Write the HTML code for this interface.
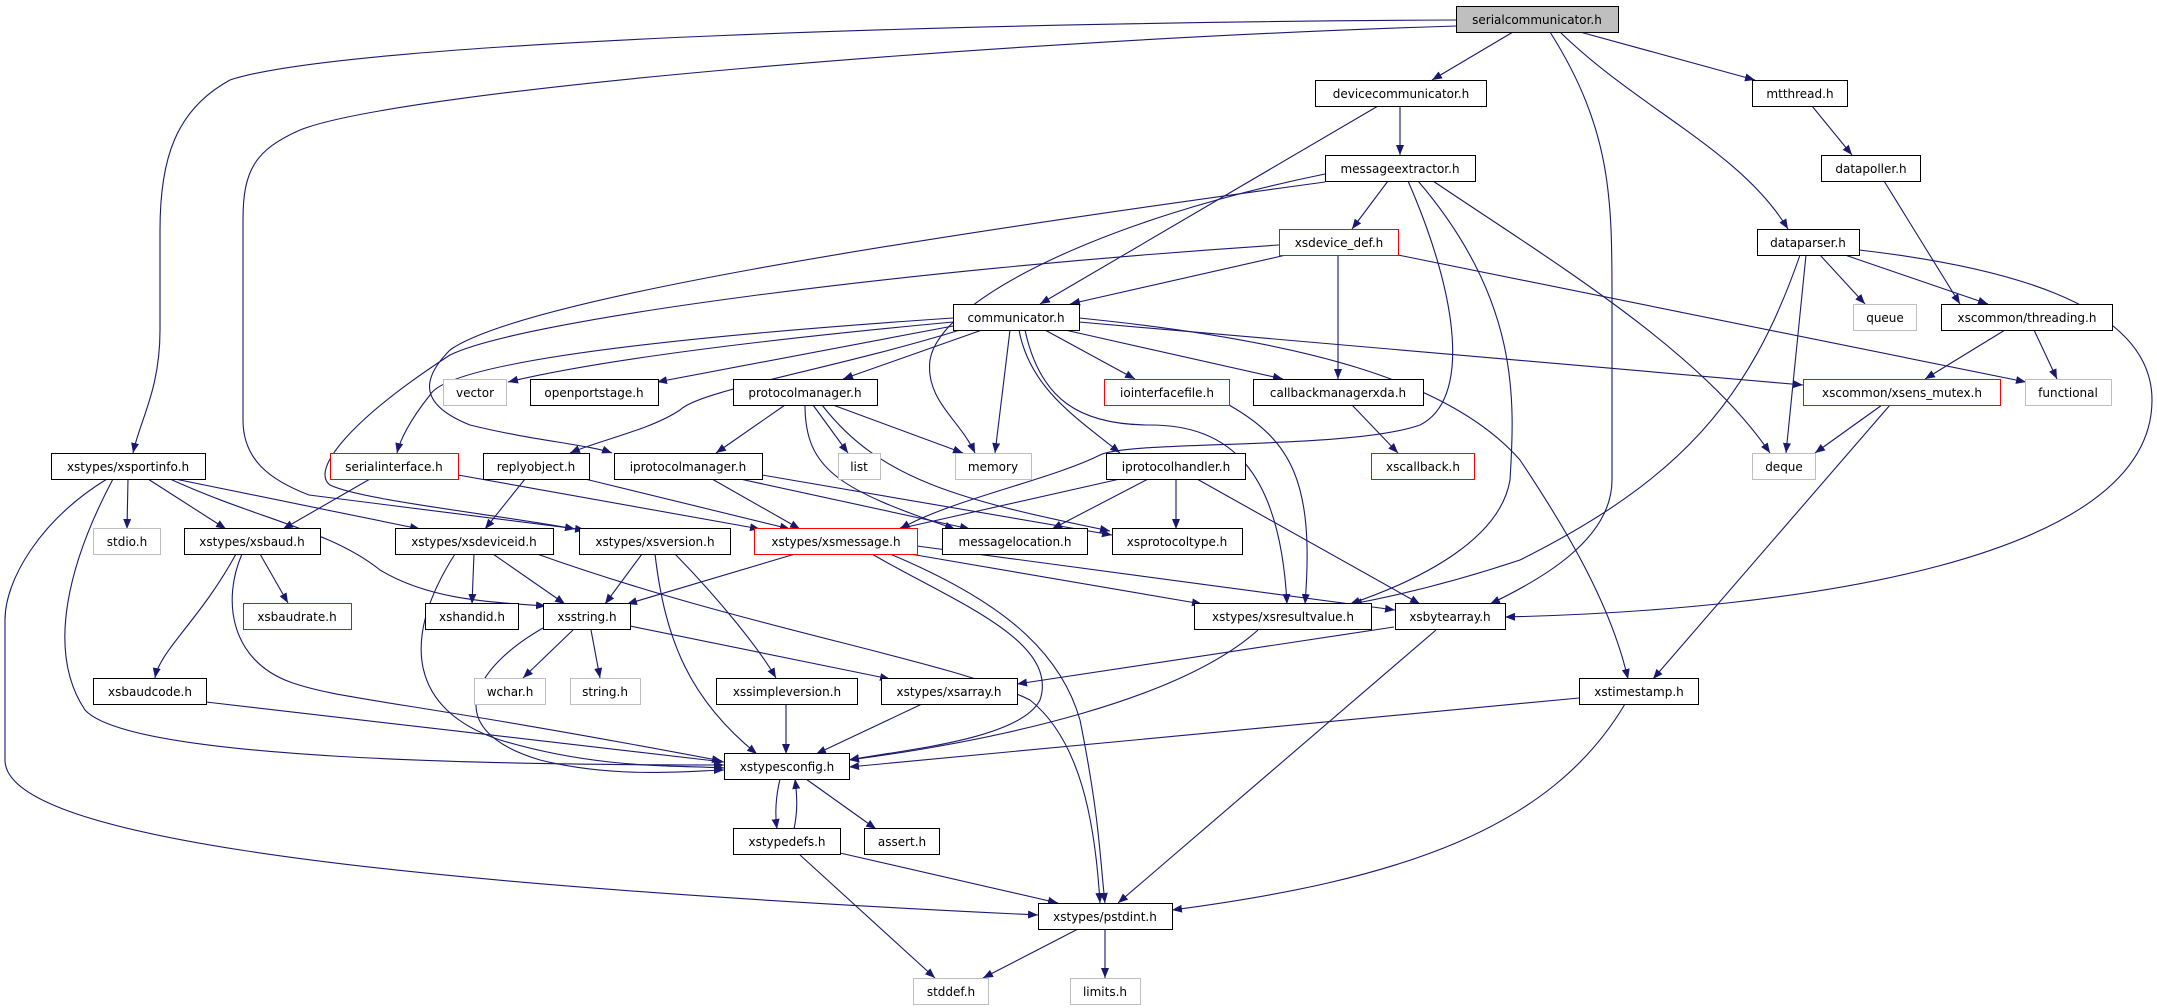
<!DOCTYPE html>
<html><head><meta charset="utf-8"><style>
html,body{margin:0;padding:0;background:#fff;}
svg{display:block;}
text{font-family:"DejaVu Sans","Liberation Sans",sans-serif;font-size:12px;fill:#000;}
.n rect{fill:#fff;stroke:#000;stroke-width:1;}
.g rect{fill:#fff;stroke:#bfbfbf;stroke-width:1;}
.r rect{fill:#fff;stroke:#ff0000;stroke-width:1;}
.root rect{fill:#bfbfbf;stroke:#000;stroke-width:1;}
.e path{fill:none;stroke:#191970;stroke-width:1.1;marker-end:url(#a);}
</style></head><body>
<svg width="2157" height="1008" viewBox="0 0 2157 1008" xmlns="http://www.w3.org/2000/svg">
<defs><marker id="a" markerUnits="userSpaceOnUse" markerWidth="11" markerHeight="8" refX="10" refY="4" orient="auto"><path d="M0,0 L10,4 L0,8 z" fill="#191970"/></marker></defs>
<g class="e">
<path d="M1513 32 L1432 80"/>
<path d="M1580 32 L1755 80"/>
<path d="M1560 32 C1640 110 1740 150 1788 229"/>
<path d="M1550 32 C1612 130 1612 200 1612 300 L1612 480 C1612 540 1540 580 1490 604"/>
<path d="M1456 20 C1000 22 350 40 230 80 C175 110 160 160 160 230 L160 330 C160 390 140 420 133 453"/>
<path d="M1456 26 C1000 40 400 90 300 130 C255 150 243 170 243 220 L243 420 C243 460 270 480 309 495 L585 530"/>
<path d="M1400 106 L1400 155"/>
<path d="M1378 106 L1040 304"/>
<path d="M1812 106 L1852 155"/>
<path d="M1884 181 L1960 304"/>
<path d="M1388 181 L1352 229"/>
<path d="M1325 174 C1100 220 940 300 930 360 C925 400 960 420 975 453"/>
<path d="M1325 182 C900 240 520 300 450 350 C420 380 420 405 470 425 C530 440 590 445 612 453"/>
<path d="M1418 181 C1520 300 1515 400 1510 480 C1500 540 1420 580 1350 604"/>
<path d="M1408 181 C1460 300 1470 400 1420 425 C1350 450 1130 440 1100 455 C1050 480 950 500 900 529"/>
<path d="M1433 181 C1550 260 1700 350 1770 453"/>
<path d="M1286 255 L1070 304"/>
<path d="M1338 255 L1338 379"/>
<path d="M1398 255 L2026 382"/>
<path d="M1279 245 C900 270 520 320 450 355 C350 420 310 470 330 485 C360 500 500 515 575 529"/>
<path d="M953 322 C760 340 600 360 508 382"/>
<path d="M953 326 L657 382"/>
<path d="M982 330 L843 379"/>
<path d="M953 318 C700 335 450 360 430 395 C410 420 400 440 397 453"/>
<path d="M960 330 C830 370 700 390 680 410 C650 430 600 440 570 453"/>
<path d="M1010 330 L995 453"/>
<path d="M1019 330 C1030 390 1080 420 1120 453"/>
<path d="M1045 330 L1135 379"/>
<path d="M1065 330 L1283 379"/>
<path d="M1079 322 L1803 385"/>
<path d="M1079 318 C1300 340 1450 380 1520 460 C1560 520 1610 600 1628 679"/>
<path d="M1025 330 C1040 400 1080 425 1150 425 C1230 425 1280 470 1287 604"/>
<path d="M1229 405 C1290 440 1315 480 1305 604"/>
<path d="M1820 255 L1865 304"/>
<path d="M1845 255 L1988 304"/>
<path d="M1806 255 L1786 453"/>
<path d="M1800 255 C1750 400 1680 480 1520 560 C1460 580 1400 595 1352 604"/>
<path d="M1859 250 C1990 265 2152 300 2152 400 C2152 560 1800 610 1505 617"/>
<path d="M2005 330 L1925 379"/>
<path d="M2034 330 L2057 379"/>
<path d="M1882 405 L1815 453"/>
<path d="M1890 405 L1653 679"/>
<path d="M1352 405 L1398 453"/>
<path d="M785 405 L716 453"/>
<path d="M813 405 L848 453"/>
<path d="M833 405 L963 453"/>
<path d="M805 405 C805 470 840 490 955 529"/>
<path d="M822 405 C880 480 960 500 1110 531"/>
<path d="M128 479 L127 529"/>
<path d="M148 479 L226 529"/>
<path d="M175 479 L420 529"/>
<path d="M170 479 C260 520 330 530 380 570 C430 600 490 602 546 606"/>
<path d="M113 479 C70 560 45 650 85 710 C130 760 500 765 724 765"/>
<path d="M107 479 C40 520 5 580 5 620 L5 760 C5 830 300 880 1038 915"/>
<path d="M370 479 L283 529"/>
<path d="M458 475 L760 529"/>
<path d="M525 479 L485 529"/>
<path d="M585 479 L790 529"/>
<path d="M712 479 L800 529"/>
<path d="M740 479 L970 529"/>
<path d="M762 475 L1112 535"/>
<path d="M1120 479 L898 529"/>
<path d="M1148 479 L1052 529"/>
<path d="M1176 479 L1176 529"/>
<path d="M1197 479 L1420 604"/>
<path d="M260 554 L288 603"/>
<path d="M236 554 C200 620 160 650 155 678"/>
<path d="M242 554 C222 600 230 660 290 682 C340 700 400 700 722 761"/>
<path d="M474 554 L472 604"/>
<path d="M493 554 L565 604"/>
<path d="M455 554 C400 640 410 710 500 740 C600 770 680 765 724 768"/>
<path d="M537 554 C750 630 950 660 1030 700 C1080 740 1095 820 1100 903"/>
<path d="M642 554 L605 604"/>
<path d="M675 554 C720 600 760 650 776 678"/>
<path d="M655 554 C665 640 690 700 757 754"/>
<path d="M795 554 L627 604"/>
<path d="M917 546 L1395 610"/>
<path d="M910 554 L1202 604"/>
<path d="M872 554 C950 600 1060 640 1040 700 C1020 740 900 750 849 760"/>
<path d="M890 554 C1000 600 1060 650 1080 720 C1100 820 1100 860 1105 903"/>
<path d="M573 630 L523 678"/>
<path d="M591 630 L600 678"/>
<path d="M630 626 L890 679"/>
<path d="M543 628 C470 670 440 730 540 760 C620 780 700 770 724 770"/>
<path d="M206 702 L724 762"/>
<path d="M786 704 L786 754"/>
<path d="M922 704 L816 754"/>
<path d="M1258 630 C1180 700 1000 740 849 760"/>
<path d="M1394 627 L1017 684"/>
<path d="M1436 630 L1118 903"/>
<path d="M1579 698 L849 767"/>
<path d="M1625 704 C1550 830 1400 880 1172 910"/>
<path d="M780 779 C775 800 775 815 777 829"/>
<path d="M794 829 C798 810 797 795 795 779"/>
<path d="M806 779 L876 829"/>
<path d="M840 853 L1058 903"/>
<path d="M800 855 L935 978"/>
<path d="M1078 929 L983 978"/>
<path d="M1105 929 L1105 978"/>
</g>
<g text-anchor="middle">
<g class="root"><rect x="1456.5" y="6.5" width="162" height="26"/><text x="1537" y="24">serialcommunicator.h</text></g>
<g class="n"><rect x="1315.5" y="80.5" width="171" height="26"/><text x="1401" y="98">devicecommunicator.h</text></g>
<g class="n"><rect x="1752.5" y="80.5" width="95" height="26"/><text x="1800" y="98">mtthread.h</text></g>
<g class="n"><rect x="1325.5" y="155.5" width="150" height="26"/><text x="1400" y="173">messageextractor.h</text></g>
<g class="n"><rect x="1821.5" y="155.5" width="99" height="26"/><text x="1871" y="173">datapoller.h</text></g>
<g class="r"><rect x="1279.5" y="229.5" width="119" height="26"/><text x="1339" y="247">xsdevice_def.h</text></g>
<g class="n"><rect x="1757.5" y="229.5" width="102" height="26"/><text x="1808" y="247">dataparser.h</text></g>
<g class="n"><rect x="953.5" y="304.5" width="126" height="26"/><text x="1016" y="322">communicator.h</text></g>
<g class="g"><rect x="1853.5" y="304.5" width="63" height="26"/><text x="1885" y="322">queue</text></g>
<g class="n"><rect x="1941.5" y="304.5" width="171" height="26"/><text x="2027" y="322">xscommon/threading.h</text></g>
<g class="g"><rect x="443.5" y="379.5" width="63" height="26"/><text x="475" y="397">vector</text></g>
<g class="n"><rect x="530.5" y="379.5" width="128" height="26"/><text x="594" y="397">openportstage.h</text></g>
<g class="n"><rect x="733.5" y="379.5" width="144" height="26"/><text x="805" y="397">protocolmanager.h</text></g>
<g class="r"><rect x="1104.5" y="379.5" width="125" height="26"/><text x="1167" y="397">iointerfacefile.h</text></g>
<g class="n"><rect x="1253.5" y="379.5" width="170" height="26"/><text x="1338" y="397">callbackmanagerxda.h</text></g>
<g class="r"><rect x="1803.5" y="379.5" width="197" height="26"/><text x="1902" y="397">xscommon/xsens_mutex.h</text></g>
<g class="g"><rect x="2025.5" y="379.5" width="86" height="26"/><text x="2068" y="397">functional</text></g>
<g class="n"><rect x="51.5" y="453.5" width="154" height="26"/><text x="128" y="471">xstypes/xsportinfo.h</text></g>
<g class="r"><rect x="330.5" y="453.5" width="128" height="26"/><text x="394" y="471">serialinterface.h</text></g>
<g class="n"><rect x="483.5" y="453.5" width="106" height="26"/><text x="536" y="471">replyobject.h</text></g>
<g class="n"><rect x="614.5" y="453.5" width="148" height="26"/><text x="688" y="471">iprotocolmanager.h</text></g>
<g class="g"><rect x="838.5" y="453.5" width="42" height="26"/><text x="859" y="471">list</text></g>
<g class="g"><rect x="955.5" y="453.5" width="76" height="26"/><text x="993" y="471">memory</text></g>
<g class="n"><rect x="1106.5" y="453.5" width="139" height="26"/><text x="1176" y="471">iprotocolhandler.h</text></g>
<g class="r"><rect x="1371.5" y="453.5" width="103" height="26"/><text x="1423" y="471">xscallback.h</text></g>
<g class="g"><rect x="1752.5" y="453.5" width="63" height="26"/><text x="1784" y="471">deque</text></g>
<g class="g"><rect x="93.5" y="528.5" width="67" height="26"/><text x="127" y="546">stdio.h</text></g>
<g class="n"><rect x="184.5" y="528.5" width="136" height="26"/><text x="252" y="546">xstypes/xsbaud.h</text></g>
<g class="n"><rect x="395.5" y="528.5" width="158" height="26"/><text x="474" y="546">xstypes/xsdeviceid.h</text></g>
<g class="n"><rect x="579.5" y="528.5" width="151" height="26"/><text x="655" y="546">xstypes/xsversion.h</text></g>
<g class="r"><rect x="754.5" y="528.5" width="163" height="26"/><text x="836" y="546">xstypes/xsmessage.h</text></g>
<g class="n"><rect x="942.5" y="528.5" width="145" height="26"/><text x="1015" y="546">messagelocation.h</text></g>
<g class="n"><rect x="1112.5" y="528.5" width="130" height="26"/><text x="1177" y="546">xsprotocoltype.h</text></g>
<g class="r"><rect x="243.5" y="603.5" width="108" height="26"/><text x="297" y="621">xsbaudrate.h</text></g>
<g class="n"><rect x="425.5" y="603.5" width="93" height="26"/><text x="472" y="621">xshandid.h</text></g>
<g class="n"><rect x="543.5" y="603.5" width="87" height="26"/><text x="587" y="621">xsstring.h</text></g>
<g class="n"><rect x="1194.5" y="603.5" width="177" height="26"/><text x="1283" y="621">xstypes/xsresultvalue.h</text></g>
<g class="n"><rect x="1395.5" y="603.5" width="110" height="26"/><text x="1450" y="621">xsbytearray.h</text></g>
<g class="n"><rect x="93.5" y="678.5" width="113" height="26"/><text x="150" y="696">xsbaudcode.h</text></g>
<g class="g"><rect x="474.5" y="678.5" width="71" height="26"/><text x="510" y="696">wchar.h</text></g>
<g class="g"><rect x="570.5" y="678.5" width="70" height="26"/><text x="605" y="696">string.h</text></g>
<g class="n"><rect x="716.5" y="678.5" width="141" height="26"/><text x="787" y="696">xssimpleversion.h</text></g>
<g class="n"><rect x="881.5" y="678.5" width="136" height="26"/><text x="949" y="696">xstypes/xsarray.h</text></g>
<g class="n"><rect x="1579.5" y="678.5" width="119" height="26"/><text x="1639" y="696">xstimestamp.h</text></g>
<g class="n"><rect x="724.5" y="753.5" width="125" height="26"/><text x="787" y="771">xstypesconfig.h</text></g>
<g class="n"><rect x="733.5" y="828.5" width="107" height="26"/><text x="787" y="846">xstypedefs.h</text></g>
<g class="n"><rect x="864.5" y="828.5" width="75" height="26"/><text x="902" y="846">assert.h</text></g>
<g class="n"><rect x="1038.5" y="903.5" width="134" height="26"/><text x="1105" y="921">xstypes/pstdint.h</text></g>
<g class="g"><rect x="913.5" y="978.5" width="75" height="26"/><text x="951" y="996">stddef.h</text></g>
<g class="g"><rect x="1070.5" y="978.5" width="70" height="26"/><text x="1105" y="996">limits.h</text></g>
</g>
</svg>
</body></html>
